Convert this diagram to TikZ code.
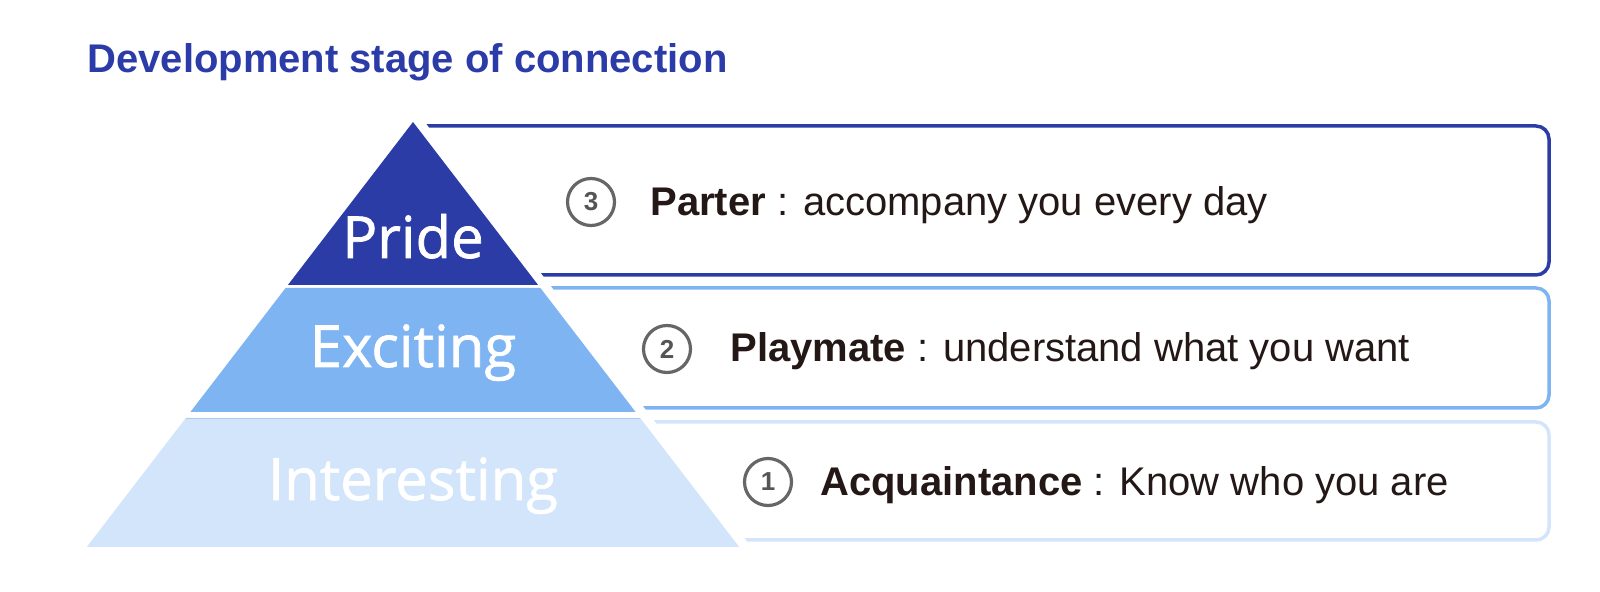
\documentclass[tikz,border=0pt]{standalone}
\usepackage{fontspec}
\setmainfont{Liberation Sans}
\newfontfamily\pyrfont[FakeBold=1.2]{Open Sans}
\definecolor{titleblue}{HTML}{2B3BA7}
\definecolor{pridecol}{HTML}{2C3CA6}
\definecolor{excitecol}{HTML}{7EB4F2}
\definecolor{interestcol}{HTML}{D3E5FB}
\definecolor{interestline}{HTML}{A9CBF4}
\definecolor{numgray}{HTML}{666666}
\definecolor{numtext}{HTML}{555555}
\definecolor{txtblack}{HTML}{231815}
\begin{document}
\begin{tikzpicture}[x=0.5pt,y=-0.5pt,
  boxline/.style={line width=1.75pt, rounded corners=6.5pt},
  numcirc/.style={circle, draw=numgray, line width=1.6pt, minimum size=23.5pt, inner sep=0pt,
    font=\fontsize{13}{15}\selectfont\bfseries, text=numtext},
  desc/.style={anchor=base west, inner sep=0pt, font=\fontsize{20}{24}\selectfont, text=txtblack},
  pyrlabel/.style={anchor=base, inner sep=0pt, text=white, font=\pyrfont\fontsize{29}{34}\selectfont}]
\useasboundingbox (0,0) rectangle (1600,592);
\fill[white] (0,0) rectangle (1600,592);

% title
\node[anchor=base west, inner sep=0pt, text=titleblue, font=\fontsize{20}{24}\selectfont\bfseries]
  (title) at (87,73) {Development stage of connection};

% boxes, clipped right of the pyramid's white margin
\begin{scope}
  \clip (408,100) -- (769,570) -- (1600,570) -- (1600,100) -- cycle;
  \draw[boxline, draw=pridecol] (300,126) rectangle (1549,275);
  \draw[boxline, draw=excitecol] (300,288) rectangle (1549,408);
  \draw[boxline, draw=interestcol] (300,422) rectangle (1549,540);
\end{scope}

% pyramid
\fill[pridecol] (413,122) -- (538.1,285) -- (287.9,285) -- cycle;
\fill[excitecol] (285.6,288) -- (540.4,288) -- (635.6,412) -- (190.4,412) -- cycle;
\fill[interestcol] (185.8,418) -- (640.2,418) -- (739.2,547) -- (86.8,547) -- cycle;
\draw[interestline, line width=0.8pt] (185.8,418.5) -- (640.2,418.5);

\node[pyrlabel] (pride) at (413,258) {Pride};
\node[pyrlabel] (exciting) at (413,367) {Exciting};
\node[pyrlabel] (interesting) at (413,500) {Interesting};

% numbered circles
\node[numcirc] (n3) at (591,202) {3};
\node[numcirc] (n2) at (667,349) {2};
\node[numcirc] (n1) at (768,482) {1};

% descriptions
\node[desc] (d3) at (650,215.5) {\textbf{Parter} : accompany you every day};
\node[desc] (d2) at (730,362) {\textbf{Playmate} : understand what you want};
\node[desc] (d1) at (820,495) {\textbf{Acquaintance} : Know who you are};
\end{tikzpicture}
\end{document}
